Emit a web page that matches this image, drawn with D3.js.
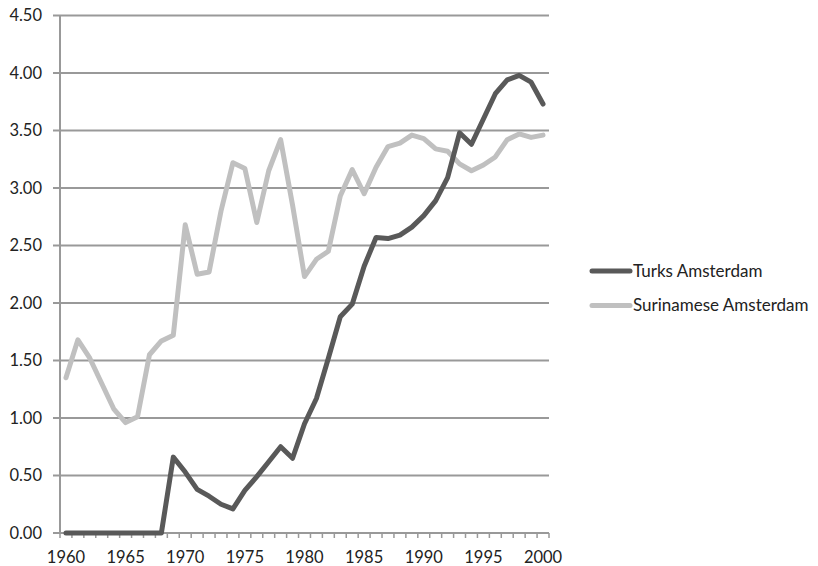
<!DOCTYPE html>
<html lang="en">
<head>
<meta charset="utf-8">
<title>Turks and Surinamese Amsterdam</title>
<script src="https://d3js.org/d3.v7.min.js"></script>
<style>
  body { margin: 0; background: #fff; }
  text { font-family: Lato, "Open Sans", sans-serif; fill: #222; }
</style>
</head>
<body>
<div id="chart"></div>
<script>
// years on the category axis
var years = d3.range(1960, 2001);

// series
var turks = [0, 0, 0, 0, 0, 0, 0, 0, 0, 0.66,
             0.53, 0.38, 0.32, 0.25, 0.21, 0.37, 0.49, 0.62, 0.75, 0.65,
             0.95, 1.17, 1.52, 1.88, 1.99, 2.32, 2.57, 2.56, 2.59, 2.66,
             2.76, 2.89, 3.09, 3.48, 3.38, 3.60, 3.82, 3.94, 3.98, 3.92,
             3.73];
var surinamese = [1.35, 1.68, 1.52, 1.30, 1.08, 0.96, 1.01, 1.55, 1.67, 1.72,
                  2.68, 2.25, 2.27, 2.80, 3.22, 3.17, 2.70, 3.15, 3.42, 2.85,
                  2.23, 2.38, 2.45, 2.93, 3.16, 2.95, 3.18, 3.36, 3.39, 3.46,
                  3.43, 3.34, 3.32, 3.21, 3.15, 3.20, 3.27, 3.42, 3.47, 3.44,
                  3.46];

var yTicks = [0, 0.5, 1, 1.5, 2, 2.5, 3, 3.5, 4, 4.5];
var xLabels = [1960, 1965, 1970, 1975, 1980, 1985, 1990, 1995, 2000];
var seriesNames = ["Turks Amsterdam", "Surinamese Amsterdam"];
var seriesColors = ["#595959", "#c0c0c0"];

var width = 818, height = 566;
var plotLeft = 60, plotRight = 549, plotTop = 15.5, plotBottom = 533;

var svg = d3.select("#chart").append("svg")
    .attr("width", width)
    .attr("height", height);

var x = d3.scaleBand()
    .domain(years)
    .range([plotLeft, plotRight]);

var y = d3.scaleLinear()
    .domain([0, 4.5])
    .range([plotBottom, plotTop]);

// gridlines
svg.append("g")
    .selectAll("line")
    .data(yTicks)
    .enter().append("line")
    .attr("x1", plotLeft - 7)
    .attr("x2", plotRight)
    .attr("y1", function(d) { return y(d); })
    .attr("y2", function(d) { return y(d); })
    .attr("stroke", "#999999")
    .attr("stroke-width", 2);

// y labels
svg.append("g")
    .selectAll("text")
    .data(yTicks)
    .enter().append("text")
    .attr("x", 42)
    .attr("y", function(d) { return y(d); })
    .attr("dy", "0.35em")
    .attr("text-anchor", "end")
    .style("font-size", "16.5px")
    .text(function(d) { return d.toFixed(2); });

// y axis line
svg.append("line")
    .attr("x1", plotLeft).attr("x2", plotLeft)
    .attr("y1", plotTop).attr("y2", plotBottom + 1)
    .attr("stroke", "#999999")
    .attr("stroke-width", 2);

// x tick marks between categories
var tickPos = years.map(function(d) { return x(d); }).concat([plotRight]);
svg.append("g")
    .selectAll("line")
    .data(tickPos)
    .enter().append("line")
    .attr("x1", function(d) { return d; })
    .attr("x2", function(d) { return d; })
    .attr("y1", plotBottom)
    .attr("y2", plotBottom + 5)
    .attr("stroke", "#999999")
    .attr("stroke-width", 1.5);

// x labels
svg.append("g")
    .selectAll("text")
    .data(xLabels)
    .enter().append("text")
    .attr("x", function(d) { return x(d) + x.bandwidth() / 2; })
    .attr("y", 563)
    .attr("text-anchor", "middle")
    .style("font-size", "16.5px")
    .text(function(d) { return d; });

// lines
var line = d3.line()
    .x(function(d, i) { return x(years[i]) + x.bandwidth() / 2; })
    .y(function(d) { return y(d); });

[surinamese, turks].forEach(function(s, k) {
    svg.append("path")
        .datum(s)
        .attr("d", line)
        .attr("fill", "none")
        .attr("stroke", k === 0 ? seriesColors[1] : seriesColors[0])
        .attr("stroke-width", 5)
        .attr("stroke-linejoin", "round")
        .attr("stroke-linecap", "round");
});

// legend
var legend = svg.append("g");
seriesNames.forEach(function(name, i) {
    var ly = 271 + i * 34.5;
    legend.append("line")
        .attr("x1", 592).attr("x2", 630)
        .attr("y1", ly).attr("y2", ly)
        .attr("stroke", seriesColors[i])
        .attr("stroke-width", 5)
        .attr("stroke-linecap", "round");
    legend.append("text")
        .attr("x", 633)
        .attr("y", ly)
        .attr("dy", "0.35em")
        .style("font-size", "17px")
        .text(name);
});
</script>
</body>
</html>
